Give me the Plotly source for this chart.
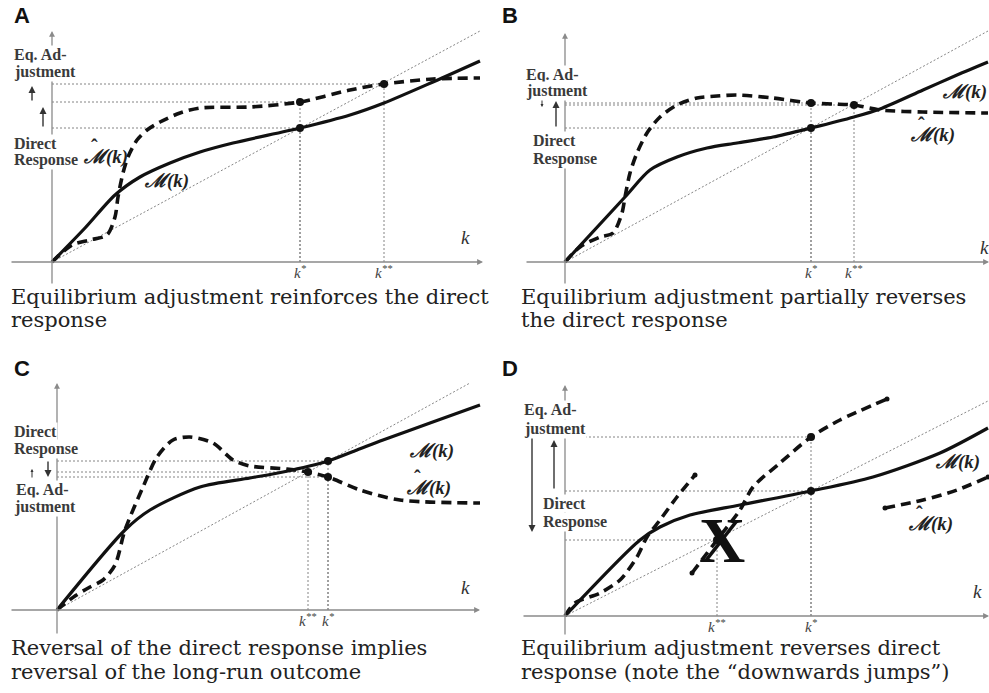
import plotly.graph_objects as go

# ---------------- data (k on horizontal axis, M on vertical axis) ----------------
# Panel A
A_M_k = [0, 0.33, 0.63, 0.88, 1.18, 1.48, 1.81, 2.48, 2.98, 3.32, 3.81, 4.28]
A_M_v = [0, 0.34, 0.67, 0.85, 0.99, 1.10, 1.19, 1.34, 1.47, 1.59, 1.80, 2.01]
A_H_k = [0, 0.20, 0.38, 0.55, 0.63, 0.66, 0.71, 0.76, 0.85, 0.95, 1.08, 1.28, 1.48, 1.98, 2.48, 2.98, 3.32, 3.81, 4.28]
A_H_v = [0, 0.17, 0.22, 0.27, 0.45, 0.65, 0.89, 1.05, 1.22, 1.32, 1.40, 1.49, 1.54, 1.55, 1.60, 1.72, 1.78, 1.83, 1.84]
A_diag_k = [0, 4.28]
A_diag_v = [0, 2.31]
A_eq_k = [2.48, 2.48, 3.32]
A_eq_v = [1.34, 1.60, 1.78]
A_tick_k = [2.48, 3.32]
A_tick_lbl = ["k<sup>*</sup>", "k<sup>**</sup>"]

# Panel B
B_M_k = [0, 0.60, 0.85, 1.12, 1.42, 1.72, 2.08, 2.46, 2.89, 3.15, 3.58, 3.92, 4.23]
B_M_v = [0, 0.65, 0.92, 1.05, 1.14, 1.19, 1.25, 1.34, 1.45, 1.53, 1.72, 1.87, 2.00]
B_H_k = [0, 0.15, 0.35, 0.48, 0.57, 0.60, 0.65, 0.72, 0.82, 0.95, 1.12, 1.32, 1.52, 1.72, 2.08, 2.46, 2.68, 2.89, 3.15, 3.58, 4.23]
B_H_v = [0, 0.15, 0.25, 0.29, 0.49, 0.65, 0.89, 1.09, 1.29, 1.45, 1.57, 1.64, 1.66, 1.67, 1.64, 1.59, 1.58, 1.57, 1.52, 1.50, 1.49]
B_diag_k = [0, 4.23]
B_diag_v = [0, 2.31]
B_eq_k = [2.46, 2.46, 2.89]
B_eq_v = [1.34, 1.59, 1.57]
B_tick_k = [2.46, 2.89]
B_tick_lbl = ["k<sup>*</sup>", "k<sup>**</sup>"]

# Panel C
C_M_k = [0, 0.68, 0.93, 1.43, 1.93, 2.26, 2.71, 3.00, 3.26, 3.73, 4.23]
C_M_v = [0, 0.80, 1.00, 1.23, 1.32, 1.38, 1.49, 1.60, 1.70, 1.87, 2.05]
C_H_k = [0, 0.18, 0.33, 0.46, 0.58, 0.68, 0.86, 1.00, 1.16, 1.33, 1.56, 1.76, 1.93, 2.30, 2.51, 2.71, 3.03, 3.43, 4.23]
C_H_v = [0, 0.14, 0.23, 0.30, 0.45, 0.80, 1.23, 1.53, 1.70, 1.73, 1.67, 1.50, 1.44, 1.41, 1.38, 1.33, 1.20, 1.10, 1.07]
C_diag_k = [0, 4.13]
C_diag_v = [0, 2.27]
C_eq_k = [2.71, 2.51, 2.71]
C_eq_v = [1.49, 1.38, 1.33]
C_tick_k = [2.51, 2.71]
C_tick_lbl = ["k<sup>**</sup>", "k<sup>*</sup>"]

# Panel D
D_M_k = [0, 0.75, 0.95, 1.25, 1.75, 2.46, 3.08, 3.75, 4.23]
D_M_v = [0, 0.76, 0.89, 1.01, 1.11, 1.25, 1.39, 1.63, 1.88]
D_H1_k = [0, 0.10, 0.35, 0.55, 0.72, 0.82, 0.95, 1.12, 1.30]
D_H1_v = [0, 0.13, 0.23, 0.36, 0.59, 0.79, 0.96, 1.19, 1.41]
D_H2_k = [1.27, 1.52, 1.75, 1.88, 2.15, 2.46, 2.75, 3.22]
D_H2_v = [0.43, 0.76, 1.06, 1.29, 1.53, 1.79, 1.96, 2.17]
D_H3_k = [3.20, 3.58, 3.92, 4.23]
D_H3_v = [1.08, 1.16, 1.26, 1.39]
D_diag_k = [0, 4.23]
D_diag_v = [0, 2.15]
D_eq_k = [2.46, 2.46, 1.52]
D_eq_v = [1.25, 1.79, 0.76]
D_tick_k = [1.52, 2.46]
D_tick_lbl = ["k<sup>**</sup>", "k<sup>*</sup>"]

captions = {
    "A": ["Equilibrium adjustment reinforces the direct", "response"],
    "B": ["Equilibrium adjustment partially reverses", "the direct response"],
    "C": ["Reversal of the direct response implies", "reversal of the long-run outcome"],
    "D": ["Equilibrium adjustment reverses direct", "response (note the \u201cdownwards jumps\u201d)"],
}

# ---------------- layout helpers ----------------
W, H = 989, 693
SCALE = 100.0
panels = {
    "A": dict(box=(0, 0, 494, 346), origin=(52, 262), ax=""),
    "B": dict(box=(494, 0, 989, 346), origin=(565, 262), ax="2"),
    "C": dict(box=(0, 346, 494, 693), origin=(57, 610), ax="3"),
    "D": dict(box=(494, 346, 989, 693), origin=(565, 616), ax="4"),
}

fig = go.Figure()
annotations = []
layout_axes = {}

AXCOL = "#8a8a8a"
GUIDE = "#777777"
LBLCOL = "#3a3a3a"
SERIF = "Liberation Serif"
CAPFONT = "DejaVu Serif"
SANS = "Liberation Sans"

for name, p in panels.items():
    x0, y0, x1, y1 = p["box"]
    ox, oy = p["origin"]
    s = p["ax"]
    layout_axes["xaxis" + s] = dict(domain=[x0 / W, x1 / W], range=[(x0 - ox) / SCALE, (x1 - ox) / SCALE],
                                    visible=False, fixedrange=True, anchor="y" + s)
    layout_axes["yaxis" + s] = dict(domain=[1 - y1 / H, 1 - y0 / H], range=[(oy - y1) / SCALE, (oy - y0) / SCALE],
                                    visible=False, fixedrange=True, anchor="x" + s)


def tr(s):
    return dict(xaxis="x" + s, yaxis="y" + s)


def add_line(s, k, v, **line):
    fig.add_trace(go.Scatter(x=k, y=v, mode="lines", line=line, showlegend=False, hoverinfo="skip", **tr(s)))


def arrow(s, xh, yh, xt, yt, color=AXCOL, width=1.3, size=0.9):
    annotations.append(dict(x=xh, y=yh, ax=xt, ay=yt, xref="x" + s, yref="y" + s, axref="x" + s, ayref="y" + s,
                            text="", showarrow=True, arrowhead=2, arrowsize=size, arrowwidth=width, arrowcolor=color))


def text(s, x, y, t, size=16, bold=True, italic=False, xanchor="left", color=LBLCOL, family=SERIF, bg=None):
    if bold:
        t = "<b>" + t + "</b>"
    if italic:
        t = "<i>" + t + "</i>"
    d = dict(x=x, y=y, xref="x" + s, yref="y" + s, text=t, showarrow=False, xanchor=xanchor, yanchor="middle",
             font=dict(size=size, color=color, family=family), borderpad=0)
    if bg:
        d["bgcolor"] = bg
    annotations.append(d)


def mlabel(s, x, y, hat=False):
    text(s, x, y, "\u2133(k)", size=19, italic=True, xanchor="center", color="#222")
    if hat:
        # circumflex over the script M
        text(s, x - 0.11, y + 0.10, "\u02c6", size=20, bold=True, xanchor="center", color="#222")


panel_data = {
    "A": dict(M=(A_M_k, A_M_v), H=[(A_H_k, A_H_v)], diag=(A_diag_k, A_diag_v), eq=(A_eq_k, A_eq_v),
              ticks=(A_tick_k, A_tick_lbl)),
    "B": dict(M=(B_M_k, B_M_v), H=[(B_H_k, B_H_v)], diag=(B_diag_k, B_diag_v), eq=(B_eq_k, B_eq_v),
              ticks=(B_tick_k, B_tick_lbl)),
    "C": dict(M=(C_M_k, C_M_v), H=[(C_H_k, C_H_v)], diag=(C_diag_k, C_diag_v), eq=(C_eq_k, C_eq_v),
              ticks=(C_tick_k, C_tick_lbl)),
    "D": dict(M=(D_M_k, D_M_v), H=[(D_H1_k, D_H1_v), (D_H2_k, D_H2_v), (D_H3_k, D_H3_v)],
              diag=(D_diag_k, D_diag_v), eq=(D_eq_k, D_eq_v), ticks=(D_tick_k, D_tick_lbl)),
}

axis_ext = {
    "A": dict(xl=-0.42, xr=4.31, yb=-0.23, yt=2.31),
    "B": dict(xl=-0.40, xr=4.24, yb=-0.23, yt=2.29),
    "C": dict(xl=-0.47, xr=4.23, yb=-0.25, yt=2.27),
    "D": dict(xl=-0.43, xr=4.24, yb=-0.20, yt=2.31),
}

for name, d in panel_data.items():
    s = panels[name]["ax"]
    e = axis_ext[name]
    arrow(s, e["xr"], 0, e["xl"], 0)
    arrow(s, 0, e["yt"], 0, e["yb"])
    add_line(s, d["diag"][0], d["diag"][1], color=GUIDE, width=0.9, dash="2px,2px")
    for k, v in zip(*d["eq"]):
        add_line(s, [0, k], [v, v], color=GUIDE, width=0.9, dash="2px,2px")
        add_line(s, [k, k], [0, v], color=GUIDE, width=0.9, dash="2px,2px")
    add_line(s, d["M"][0], d["M"][1], color="#111111", width=3.2, shape="spline", smoothing=0.8)
    for hk, hv in d["H"]:
        add_line(s, hk, hv, color="#111111", width=3.6, dash="10px,6px", shape="spline", smoothing=0.8)
    fig.add_trace(go.Scatter(x=d["eq"][0], y=d["eq"][1], mode="markers", marker=dict(color="#111111", size=8),
                             showlegend=False, hoverinfo="skip", **tr(s)))
    for k, lbl in zip(*d["ticks"]):
        text(s, k, -0.10, lbl, size=15, bold=False, italic=True, xanchor="center", color="#444")

fig.add_trace(go.Scatter(x=[D_H1_k[-1], D_H2_k[0], D_H2_k[-1], D_H3_k[0], D_H3_k[-1]],
                         y=[D_H1_v[-1], D_H2_v[0], D_H2_v[-1], D_H3_v[0], D_H3_v[-1]], mode="markers",
                         marker=dict(color="#111111", size=5), showlegend=False, hoverinfo="skip", xaxis="x4", yaxis="y4"))

# ---------------- panel A labels ----------------
s = ""
text(s, -0.30, 2.47, "A", size=22, family=SANS, color="#111", xanchor="center")
text(s, -0.39, 2.07, "Eq. Ad-", bg="white")
text(s, -0.39, 1.90, "justment", bg="white")
text(s, -0.39, 1.19, "Direct", bg="white")
text(s, -0.39, 1.02, "Response", bg="white")
arrow(s, -0.20, 1.76, -0.20, 1.60, color="#333", width=1.4, size=1)
arrow(s, -0.09, 1.55, -0.09, 1.34, color="#333", width=1.4, size=1)
mlabel(s, 0.53, 1.05, hat=True)
mlabel(s, 1.14, 0.81)
text(s, 4.13, 0.25, "k", size=19, bold=False, italic=True, xanchor="center", color="#333")

# ---------------- panel B labels ----------------
s = "2"
text(s, -0.55, 2.47, "B", size=22, family=SANS, color="#111", xanchor="center")
text(s, -0.40, 1.87, "Eq. Ad-", bg="white")
text(s, -0.40, 1.71, "justment", bg="white")
text(s, -0.33, 1.22, "Direct", bg="white")
text(s, -0.33, 1.03, "Response", bg="white")
arrow(s, -0.23, 1.55, -0.23, 1.63, color="#333", width=1.0, size=0.6)
arrow(s, -0.09, 1.61, -0.09, 1.34, color="#333", width=1.4, size=1)
mlabel(s, 3.99, 1.70)
mlabel(s, 3.67, 1.27, hat=True)
text(s, 4.19, 0.15, "k", size=19, bold=False, italic=True, xanchor="center", color="#333")

# ---------------- panel C labels ----------------
s = "3"
text(s, -0.35, 2.42, "C", size=22, family=SANS, color="#111", xanchor="center")
text(s, -0.44, 1.79, "Direct", bg="white")
text(s, -0.44, 1.61, "Response", bg="white")
text(s, -0.42, 1.20, "Eq. Ad-", bg="white")
text(s, -0.44, 1.03, "justment", bg="white")
arrow(s, -0.09, 1.33, -0.09, 1.50, color="#333", width=1.4, size=1)
arrow(s, -0.25, 1.41, -0.25, 1.31, color="#333", width=1.0, size=0.6)
mlabel(s, 3.74, 1.59)
mlabel(s, 3.71, 1.22, hat=True)
text(s, 4.08, 0.23, "k", size=19, bold=False, italic=True, xanchor="center", color="#333")

# ---------------- panel D labels ----------------
s = "4"
text(s, -0.55, 2.48, "D", size=22, family=SANS, color="#111", xanchor="center")
text(s, -0.42, 2.06, "Eq. Ad-", bg="white")
text(s, -0.42, 1.87, "justment", bg="white")
text(s, -0.23, 1.13, "Direct", bg="white")
text(s, -0.23, 0.94, "Response", bg="white")
arrow(s, -0.11, 1.76, -0.11, 1.26, color="#333", width=1.4, size=1)
arrow(s, -0.33, 0.84, -0.33, 1.79, color="#333", width=1.4, size=1)
text(s, 1.57, 0.76, "X", size=64, family=SERIF, color="#111", xanchor="center")
mlabel(s, 3.92, 1.54)
mlabel(s, 3.65, 0.92, hat=True)
text(s, 4.12, 0.25, "k", size=19, bold=False, italic=True, xanchor="center", color="#333")

# ---------------- captions ----------------
cap_pos = {"A": ("", -0.42, -0.35, -0.58), "B": ("2", -0.45, -0.35, -0.58),
           "C": ("3", -0.47, -0.38, -0.62), "D": ("4", -0.45, -0.32, -0.56)}
for name, (s, cx, cy1, cy2) in cap_pos.items():
    text(s, cx, cy1, captions[name][0], size=21, bold=False, color="#222", family=CAPFONT)
    text(s, cx, cy2, captions[name][1], size=21, bold=False, color="#222", family=CAPFONT)

fig.update_layout(width=W, height=H, margin=dict(l=0, r=0, t=0, b=0), paper_bgcolor="white",
                  plot_bgcolor="rgba(0,0,0,0)", annotations=annotations, **layout_axes)

fig.write_html("out.html")
